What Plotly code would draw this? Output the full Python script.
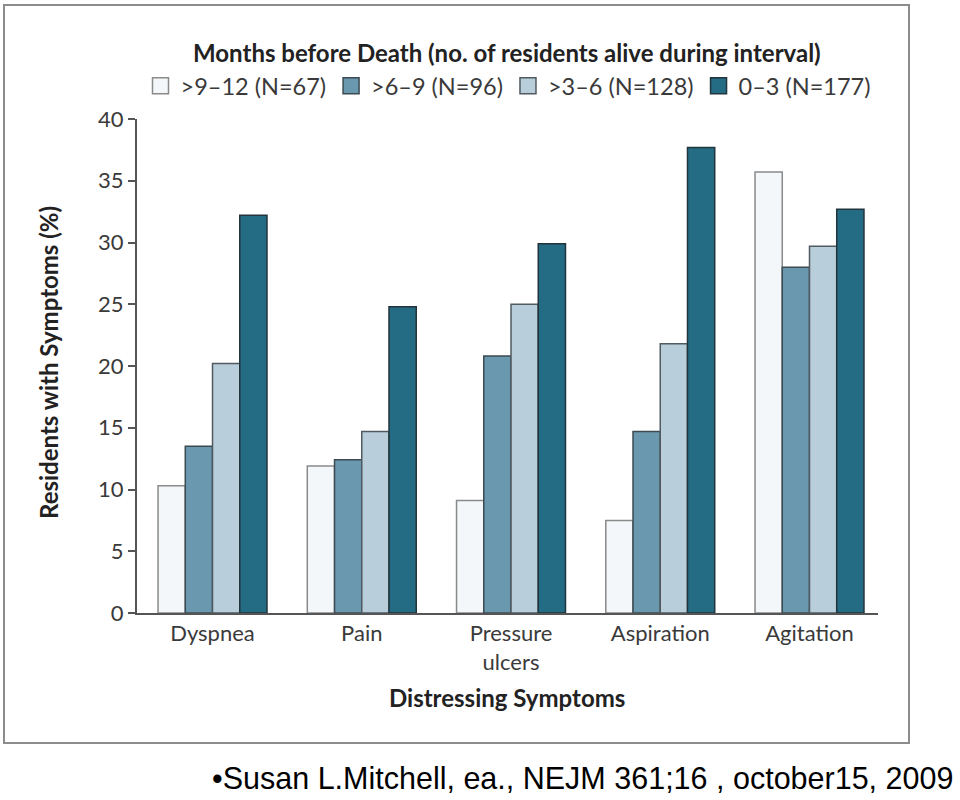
import plotly.graph_objects as go

categories = ["Dyspnea", "Pain", "Pressure<br>ulcers", "Aspiration", "Agitation"]
series_names = [">9–12 (N=67)", ">6–9 (N=96)", ">3–6 (N=128)", "0–3 (N=177)"]
v_9_12 = [10.3, 11.9, 9.1, 7.5, 35.7]
v_6_9 = [13.5, 12.4, 20.8, 14.7, 28.0]
v_3_6 = [20.2, 14.7, 25.0, 21.8, 29.7]
v_0_3 = [32.2, 24.8, 29.9, 37.7, 32.7]
y_ticks = [0, 5, 10, 15, 20, 25, 30, 35, 40]

series_values = [v_9_12, v_6_9, v_3_6, v_0_3]
fills = ["#f3f7f9", "#6a98ae", "#b8cedb", "#246b84"]
lines = ["#8a8a8a", "#3c4a52", "#505a60", "#22343c"]

FONT = "Lato"
TXT = "#3a3a3a"
TITLE = "#222222"

# plot area in pixels
L, R, T, B = 137, 878, 119, 613
PW, PH = R - L, B - T


def px_x(x):
    return (x - L) / PW


def px_y(y):
    return (B - y) / PH


fig = go.Figure()
for name, vals, fc, lc in zip(series_names, series_values, fills, lines):
    fig.add_trace(go.Bar(
        x=categories, y=vals, name=name, showlegend=False,
        marker=dict(color=fc, line=dict(color=lc, width=1.5)),
    ))
# legend entries (square swatches)
for name, fc, lc in zip(series_names, fills, lines):
    fig.add_trace(go.Scatter(
        x=[None], y=[None], mode="markers", name=name,
        marker=dict(symbol="square", size=16, color=fc, line=dict(color=lc, width=1.5)),
    ))

fig.update_layout(
    width=960, height=800,
    paper_bgcolor="white", plot_bgcolor="white",
    margin=dict(l=L, r=960 - R, t=T, b=800 - B, autoexpand=False),
    barmode="group", bargap=0.27, bargroupgap=0,
    font=dict(family=FONT, color=TXT),
    showlegend=True,
    legend=dict(
        orientation="h", x=508 / 960, xanchor="center", xref="container",
        y=1 - 86 / 800, yanchor="middle", yref="container",
        font=dict(family=FONT, size=23.5, color=TXT),
        itemsizing="trace", traceorder="normal",
        itemwidth=30, bgcolor="rgba(0,0,0,0)",
    ),
    xaxis=dict(
        type="category", range=[-0.506, 4.459],
        showline=True, linecolor="#555", linewidth=2,
        ticks="", showgrid=False, zeroline=False,
        tickfont=dict(family=FONT, size=22, color=TXT),
    ),
    yaxis=dict(
        range=[0, 40], tickvals=y_ticks,
        showline=True, linecolor="#555", linewidth=2,
        ticks="outside", ticklen=7, tickwidth=1.5, tickcolor="#555",
        showgrid=False, zeroline=False,
        tickfont=dict(family=FONT, size=22, color=TXT),
    ),
)

fig.add_annotation(
    text="<b>Months before Death (no. of residents alive during interval)</b>",
    xref="paper", yref="paper", x=px_x(507), y=px_y(52),
    xanchor="center", yanchor="middle", showarrow=False,
    font=dict(family=FONT, size=24, color=TITLE),
)
fig.add_annotation(
    text="<b>Distressing Symptoms</b>",
    xref="paper", yref="paper", x=px_x(507), y=px_y(697),
    xanchor="center", yanchor="middle", showarrow=False,
    font=dict(family=FONT, size=24, color=TITLE),
)
fig.add_annotation(
    text="<b>Residents with Symptoms (%)</b>", textangle=-90,
    xref="paper", yref="paper", x=px_x(48), y=px_y(363),
    xanchor="center", yanchor="middle", showarrow=False,
    font=dict(family=FONT, size=24, color=TITLE),
)
fig.add_annotation(
    text="•Susan L.Mitchell, ea., NEJM 361;16 , october15, 2009",
    xref="paper", yref="paper", x=px_x(955), y=px_y(778),
    xanchor="right", yanchor="middle", showarrow=False,
    font=dict(family="Liberation Sans", size=30.5, color="#000"),
)

fig.add_shape(
    type="rect", xref="paper", yref="paper",
    x0=px_x(4), x1=px_x(909), y0=px_y(743), y1=px_y(5),
    line=dict(color="#8c8c8c", width=2), fillcolor="rgba(0,0,0,0)", layer="below",
)

fig.write_html(
    "out.html",
    config={"displayModeBar": False},
    post_script="document.body.style.margin='0';document.body.style.overflow='hidden';",
)
